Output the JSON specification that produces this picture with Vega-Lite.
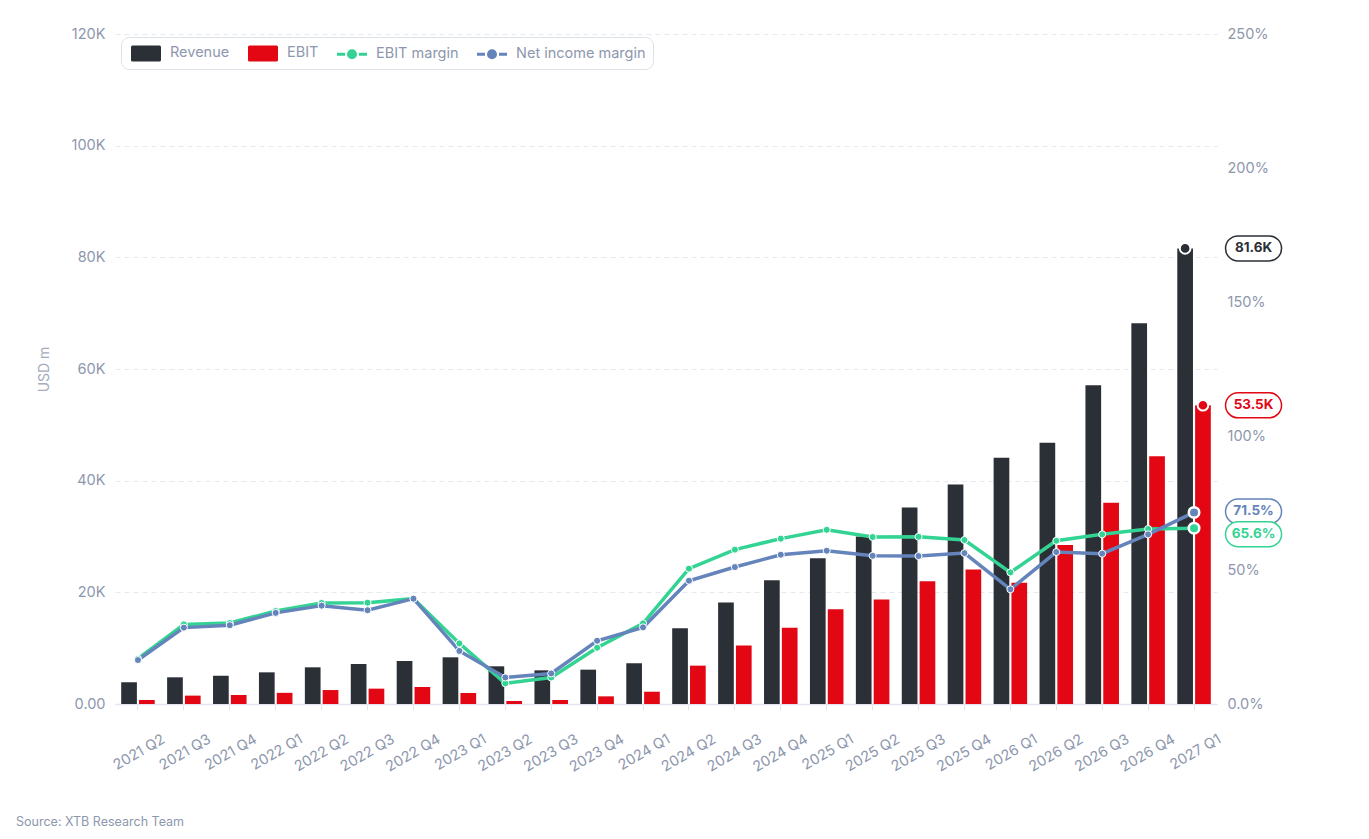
{
  "$schema": "https://vega.github.io/schema/vega-lite/v6.json",
  "width": 1102,
  "height": 670,
  "autosize": {"type": "none"},
  "padding": {"left": 115, "top": 34, "right": 152, "bottom": 135},
  "background": "white",
  "config": {
    "font": "Inter",
    "view": {"stroke": null},
    "axis": {"labelFont": "Inter", "labelColor": "#8d97ad", "labelFontSize": 14.5, "titleFont": "Inter"}
  },
  "title": {
    "text": "Source: XTB Research Team",
    "orient": "bottom",
    "anchor": "start",
    "frame": "bounds",
    "fontSize": 12.5,
    "fontWeight": "normal",
    "color": "#8d97ad",
    "dx": -21,
    "offset": 42
  },
  "data": {
    "values": [
      {"quarter": "2021 Q2", "revenue": 3880, "ebit": 720, "ebit_margin": 16.9, "net_margin": 16.4},
      {"quarter": "2021 Q3", "revenue": 4780, "ebit": 1500, "ebit_margin": 29.7, "net_margin": 28.5},
      {"quarter": "2021 Q4", "revenue": 5070, "ebit": 1600, "ebit_margin": 30.2, "net_margin": 29.4},
      {"quarter": "2022 Q1", "revenue": 5670, "ebit": 2000, "ebit_margin": 34.7, "net_margin": 34.0},
      {"quarter": "2022 Q2", "revenue": 6570, "ebit": 2500, "ebit_margin": 37.7, "net_margin": 36.7},
      {"quarter": "2022 Q3", "revenue": 7160, "ebit": 2750, "ebit_margin": 37.8, "net_margin": 35.0},
      {"quarter": "2022 Q4", "revenue": 7700, "ebit": 3050, "ebit_margin": 39.3, "net_margin": 39.3},
      {"quarter": "2023 Q1", "revenue": 8360, "ebit": 1970, "ebit_margin": 22.6, "net_margin": 19.8},
      {"quarter": "2023 Q2", "revenue": 6750, "ebit": 540, "ebit_margin": 7.7, "net_margin": 9.9},
      {"quarter": "2023 Q3", "revenue": 6030, "ebit": 720, "ebit_margin": 9.9, "net_margin": 11.4},
      {"quarter": "2023 Q4", "revenue": 6150, "ebit": 1370, "ebit_margin": 21.0, "net_margin": 23.6},
      {"quarter": "2024 Q1", "revenue": 7280, "ebit": 2200, "ebit_margin": 30.1, "net_margin": 28.6},
      {"quarter": "2024 Q2", "revenue": 13560, "ebit": 6870, "ebit_margin": 50.5, "net_margin": 46.0},
      {"quarter": "2024 Q3", "revenue": 18200, "ebit": 10500, "ebit_margin": 57.6, "net_margin": 51.1},
      {"quarter": "2024 Q4", "revenue": 22150, "ebit": 13670, "ebit_margin": 61.7, "net_margin": 55.7},
      {"quarter": "2025 Q1", "revenue": 26100, "ebit": 16960, "ebit_margin": 65.0, "net_margin": 57.2},
      {"quarter": "2025 Q2", "revenue": 30000, "ebit": 18700, "ebit_margin": 62.3, "net_margin": 55.3},
      {"quarter": "2025 Q3", "revenue": 35200, "ebit": 21970, "ebit_margin": 62.4, "net_margin": 55.2},
      {"quarter": "2025 Q4", "revenue": 39300, "ebit": 24100, "ebit_margin": 61.2, "net_margin": 56.3},
      {"quarter": "2026 Q1", "revenue": 44100, "ebit": 21700, "ebit_margin": 49.1, "net_margin": 42.8},
      {"quarter": "2026 Q2", "revenue": 46800, "ebit": 28500, "ebit_margin": 60.9, "net_margin": 56.7},
      {"quarter": "2026 Q3", "revenue": 57100, "ebit": 36060, "ebit_margin": 63.3, "net_margin": 56.1},
      {"quarter": "2026 Q4", "revenue": 68200, "ebit": 44360, "ebit_margin": 65.3, "net_margin": 63.3},
      {"quarter": "2027 Q1", "revenue": 81600, "ebit": 53500, "ebit_margin": 65.6, "net_margin": 71.5}
    ]
  },
  "encoding": {
    "x": {
      "field": "quarter",
      "type": "ordinal",
      "sort": null,
      "scale": {"paddingInner": 0.27, "paddingOuter": 0.135},
      "axis": {
        "title": null,
        "labelAngle": -30,
        "labelAlign": "right",
        "labelBaseline": "middle",
        "labelOffset": 26,
        "labelPadding": 28,
        "ticks": true,
        "tickSize": 6,
        "tickColor": "#e3e6ee",
        "domainColor": "#e3e6ee",
        "domainWidth": 1.5,
        "grid": false
      }
    }
  },
  "layer": [
    {
      "transform": [{"fold": ["revenue", "ebit"], "as": ["series", "value"]}],
      "layer": [
        {
          "mark": {"type": "bar"},
          "encoding": {
            "xOffset": {"field": "series", "type": "nominal", "sort": ["revenue", "ebit"], "scale": {"paddingInner": 0.12}},
            "y": {
              "field": "value",
              "type": "quantitative",
              "scale": {"domain": [0, 120000], "nice": false},
              "axis": {
                "orient": "left",
                "title": "USD m",
                "titleColor": "#a3abbd",
                "titleFontSize": 14,
                "titleFontWeight": "normal",
                "titlePadding": 20,
                "values": [0, 20000, 40000, 60000, 80000, 100000, 120000],
                "labelExpr": "datum.value === 0 ? '0.00' : format(datum.value / 1000, 'd') + 'K'",
                "labelPadding": 10,
                "ticks": false,
                "domain": false,
                "grid": true,
                "gridColor": "#e6e9f0",
                "gridDash": [5, 4]
              }
            },
            "color": {
              "field": "series",
              "type": "nominal",
              "scale": {
                "domain": ["revenue", "ebit", "ebit_margin", "net_margin"],
                "range": ["#2b2f36", "#e30613", "#33d394", "#6484bb"]
              },
              "legend": {
                "title": null,
                "orient": "none",
                "legendX": 6,
                "legendY": 3,
                "direction": "horizontal",
                "columns": 4,
                "labelExpr": "datum.value === 'revenue' ? 'Revenue' : datum.value === 'ebit' ? 'EBIT' : datum.value === 'ebit_margin' ? 'EBIT margin' : 'Net income margin'",
                "labelFont": "Inter",
                "labelFontSize": 14.5,
                "labelColor": "#8d97ad",
                "labelOffset": 21,
                "columnPadding": 15,
                "padding": 7,
                "symbolOffset": 3,
                "symbolSize": 225,
                "symbolStrokeWidth": 3,
                "fillColor": "white",
                "strokeColor": "#dde1e9",
                "cornerRadius": 8,
                "encode": {
                  "symbols": {
                    "update": {
                      "shape": {"signal": "(datum.value === 'revenue' || datum.value === 'ebit') ? 'M-1,-0.87 L2.6,-0.87 L2.6,0.87 L-1,0.87 Z' : 'M-1.2,0 L-0.13,0 M1.73,0 L2.8,0 M0.33,0 A0.47,0.47 0 1,0 1.27,0 A0.47,0.47 0 1,0 0.33,0 Z'"},
                      "fill": {"signal": "scale('color', datum.value)"},
                      "stroke": {"signal": "scale('color', datum.value)"},
                      "strokeJoin": {"value": "round"},
                      "opacity": {"value": 1},
                      "fillOpacity": {"value": 1}
                    }
                  }
                }
              }
            }
          }
        },
        {
          "transform": [{"filter": "datum.quarter === '2027 Q1'"}],
          "mark": {"type": "point", "filled": true, "size": 113, "stroke": "white", "strokeWidth": 2, "opacity": 1},
          "encoding": {
            "xOffset": {"field": "series", "type": "nominal", "sort": ["revenue", "ebit"]},
            "y": {"field": "value", "type": "quantitative"},
            "fill": {
              "field": "series",
              "type": "nominal",
              "scale": {"domain": ["revenue", "ebit", "ebit_margin", "net_margin"], "range": ["#2b2f36", "#e30613", "#33d394", "#6484bb"]},
              "legend": null
            }
          }
        },
        {
          "transform": [{"filter": "datum.quarter === '2027 Q1'"}],
          "mark": {
            "type": "point",
            "shape": "M-0.554,-0.446 L0.554,-0.446 A0.446,0.446 0 0,1 0.554,0.446 L-0.554,0.446 A0.446,0.446 0 0,1 -0.554,-0.446 Z",
            "size": 3136,
            "filled": false,
            "fill": "white",
            "fillOpacity": 1,
            "strokeWidth": 1.5,
            "opacity": 1,
            "xOffset": 59.5
          },
          "encoding": {
            "y": {"field": "value", "type": "quantitative"},
            "stroke": {
              "field": "series",
              "type": "nominal",
              "scale": {"domain": ["revenue", "ebit", "ebit_margin", "net_margin"], "range": ["#2b2f36", "#e30613", "#33d394", "#6484bb"]},
              "legend": null
            }
          }
        },
        {
          "transform": [
            {"filter": "datum.quarter === '2027 Q1'"},
            {"calculate": "format(datum.value / 1000, '.1f') + 'K'", "as": "label"}
          ],
          "mark": {"type": "text", "dx": 59.5, "fontSize": 13.5, "fontWeight": "bold", "align": "center", "baseline": "middle"},
          "encoding": {
            "y": {"field": "value", "type": "quantitative"},
            "text": {"field": "label"},
            "fill": {"field": "series", "type": "nominal", "legend": null}
          }
        }
      ]
    },
    {
      "transform": [{"fold": ["ebit_margin", "net_margin"], "as": ["series", "pct"]}],
      "layer": [
        {
          "mark": {
            "type": "line",
            "strokeWidth": 3.5,
            "point": {"filled": true, "size": 50, "stroke": "white", "strokeWidth": 1, "opacity": 1}
          },
          "encoding": {
            "y": {
              "field": "pct",
              "type": "quantitative",
              "scale": {"domain": [0, 250], "nice": false},
              "axis": {
                "orient": "right",
                "title": null,
                "values": [0, 50, 100, 150, 200, 250],
                "labelExpr": "datum.value === 0 ? '0.0%' : datum.value + '%'",
                "labelPadding": 10,
                "ticks": false,
                "domain": false,
                "grid": false
              }
            },
            "color": {"field": "series", "type": "nominal"}
          }
        },
        {
          "transform": [{"filter": "datum.quarter === '2027 Q1'"}],
          "mark": {"type": "point", "filled": true, "size": 110, "stroke": "white", "strokeWidth": 2.5, "opacity": 1},
          "encoding": {
            "y": {"field": "pct", "type": "quantitative"},
            "fill": {"field": "series", "type": "nominal", "legend": null}
          }
        },
        {
          "transform": [{"filter": "datum.quarter === '2027 Q1' && datum.series === 'net_margin'"}],
          "mark": {
            "type": "point",
            "shape": "M-0.554,-0.446 L0.554,-0.446 A0.446,0.446 0 0,1 0.554,0.446 L-0.554,0.446 A0.446,0.446 0 0,1 -0.554,-0.446 Z",
            "size": 3136,
            "filled": false,
            "fill": "white",
            "fillOpacity": 1,
            "strokeWidth": 1.5,
            "opacity": 1,
            "xOffset": 59.5,
            "yOffset": -1
          },
          "encoding": {
            "y": {"field": "pct", "type": "quantitative"},
            "stroke": {"field": "series", "type": "nominal", "legend": null}
          }
        },
        {
          "transform": [{"filter": "datum.quarter === '2027 Q1' && datum.series === 'ebit_margin'"}],
          "mark": {
            "type": "point",
            "shape": "M-0.554,-0.446 L0.554,-0.446 A0.446,0.446 0 0,1 0.554,0.446 L-0.554,0.446 A0.446,0.446 0 0,1 -0.554,-0.446 Z",
            "size": 3136,
            "filled": false,
            "fill": "white",
            "fillOpacity": 1,
            "strokeWidth": 1.5,
            "opacity": 1,
            "xOffset": 59.5,
            "yOffset": 6
          },
          "encoding": {
            "y": {"field": "pct", "type": "quantitative"},
            "stroke": {"field": "series", "type": "nominal", "legend": null}
          }
        },
        {
          "transform": [
            {"filter": "datum.quarter === '2027 Q1' && datum.series === 'net_margin'"},
            {"calculate": "format(datum.pct, '.1f') + '%'", "as": "label"}
          ],
          "mark": {"type": "text", "dx": 59.5, "dy": -1, "fontSize": 13.5, "fontWeight": "bold", "align": "center", "baseline": "middle"},
          "encoding": {
            "y": {"field": "pct", "type": "quantitative"},
            "text": {"field": "label"},
            "fill": {"field": "series", "type": "nominal", "legend": null}
          }
        },
        {
          "transform": [
            {"filter": "datum.quarter === '2027 Q1' && datum.series === 'ebit_margin'"},
            {"calculate": "format(datum.pct, '.1f') + '%'", "as": "label"}
          ],
          "mark": {"type": "text", "dx": 59.5, "dy": 6, "fontSize": 13.5, "fontWeight": "bold", "align": "center", "baseline": "middle"},
          "encoding": {
            "y": {"field": "pct", "type": "quantitative"},
            "text": {"field": "label"},
            "fill": {"field": "series", "type": "nominal", "legend": null}
          }
        }
      ]
    }
  ],
  "resolve": {"scale": {"y": "independent"}}
}
